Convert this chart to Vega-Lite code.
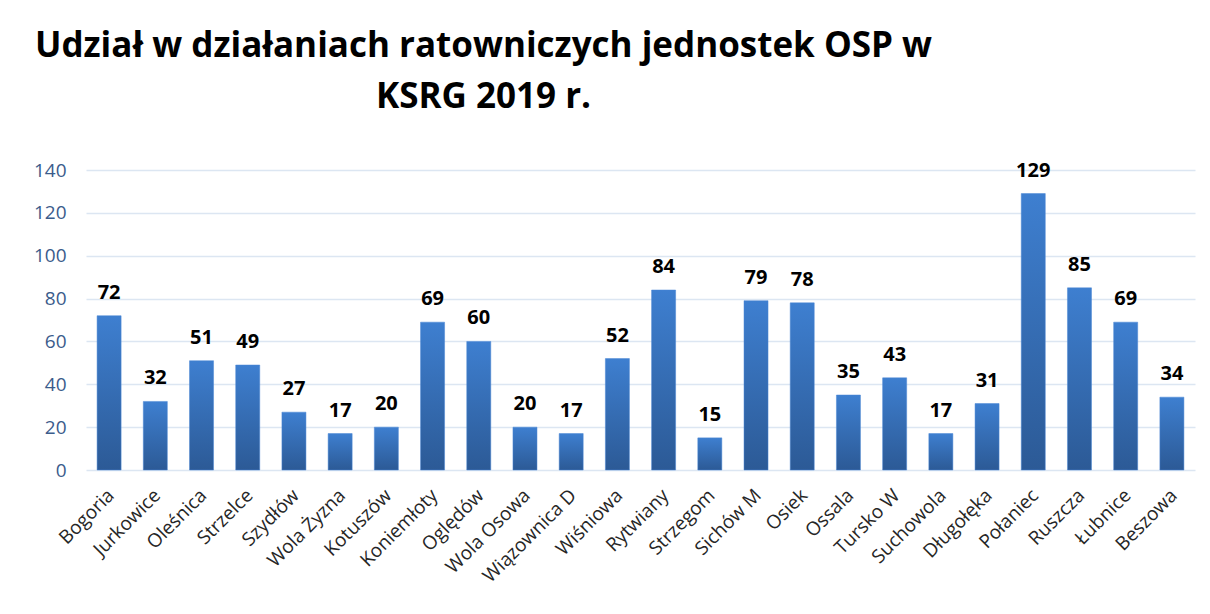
{
  "$schema": "https://vega.github.io/schema/vega-lite/v6.json",
  "width": 1109,
  "height": 300,
  "autosize": {"type": "none"},
  "padding": {"left": 86, "top": 170, "right": 15, "bottom": 144},
  "background": "white",
  "title": {
    "text": ["Udział w działaniach ratowniczych jednostek OSP w", "KSRG 2019 r."],
    "anchor": "middle",
    "frame": "group",
    "align": "center",
    "dx": -157,
    "offset": 46,
    "lineHeight": 51,
    "font": "Open Sans",
    "fontSize": 35,
    "fontWeight": "bold",
    "color": "#000000"
  },
  "data": {
    "values": [
      {"jednostka": "Bogoria", "liczba": 72},
      {"jednostka": "Jurkowice", "liczba": 32},
      {"jednostka": "Oleśnica", "liczba": 51},
      {"jednostka": "Strzelce", "liczba": 49},
      {"jednostka": "Szydłów", "liczba": 27},
      {"jednostka": "Wola Żyzna", "liczba": 17},
      {"jednostka": "Kotuszów", "liczba": 20},
      {"jednostka": "Koniemłoty", "liczba": 69},
      {"jednostka": "Oględów", "liczba": 60},
      {"jednostka": "Wola Osowa", "liczba": 20},
      {"jednostka": "Wiązownica D", "liczba": 17},
      {"jednostka": "Wiśniowa", "liczba": 52},
      {"jednostka": "Rytwiany", "liczba": 84},
      {"jednostka": "Strzegom", "liczba": 15},
      {"jednostka": "Sichów M", "liczba": 79},
      {"jednostka": "Osiek", "liczba": 78},
      {"jednostka": "Ossala", "liczba": 35},
      {"jednostka": "Tursko W", "liczba": 43},
      {"jednostka": "Suchowola", "liczba": 17},
      {"jednostka": "Długołęka", "liczba": 31},
      {"jednostka": "Połaniec", "liczba": 129},
      {"jednostka": "Ruszcza", "liczba": 85},
      {"jednostka": "Łubnice", "liczba": 69},
      {"jednostka": "Beszowa", "liczba": 34}
    ]
  },
  "encoding": {
    "x": {
      "field": "jednostka",
      "type": "nominal",
      "sort": null,
      "title": null,
      "scale": {"paddingInner": 0.48, "paddingOuter": 0.24},
      "axis": {
        "labelAngle": -45,
        "labelAlign": "right",
        "labelBaseline": "middle",
        "labelFont": "Open Sans",
        "labelFontSize": 19,
        "labelColor": "#262626",
        "labelPadding": 22,
        "labelOffset": 2,
        "ticks": false,
        "domain": false,
        "grid": false
      }
    },
    "y": {
      "field": "liczba",
      "type": "quantitative",
      "title": null,
      "scale": {"domain": [0, 140]},
      "axis": {
        "values": [0, 20, 40, 60, 80, 100, 120, 140],
        "labelFont": "Open Sans",
        "labelFontSize": 19,
        "labelColor": "#3B5C8C",
        "labelPadding": 20,
        "ticks": false,
        "domain": false,
        "grid": true,
        "gridColor": "#DCE6F2",
        "gridWidth": 1.5
      }
    }
  },
  "layer": [
    {
      "mark": {
        "type": "bar",
        "color": {
          "gradient": "linear",
          "x1": 0, "y1": 0, "x2": 0, "y2": 1,
          "stops": [
            {"offset": 0, "color": "#3E7FD0"},
            {"offset": 1, "color": "#2C5A96"}
          ]
        },
        "stroke": "#4A86D4",
        "strokeWidth": 0.5
      }
    },
    {
      "mark": {
        "type": "text",
        "dy": -17,
        "baseline": "alphabetic",
        "font": "Open Sans",
        "fontSize": 20,
        "fontWeight": "bold",
        "color": "#000000"
      },
      "encoding": {"text": {"field": "liczba", "type": "quantitative"}}
    }
  ],
  "config": {"view": {"stroke": null}}
}
